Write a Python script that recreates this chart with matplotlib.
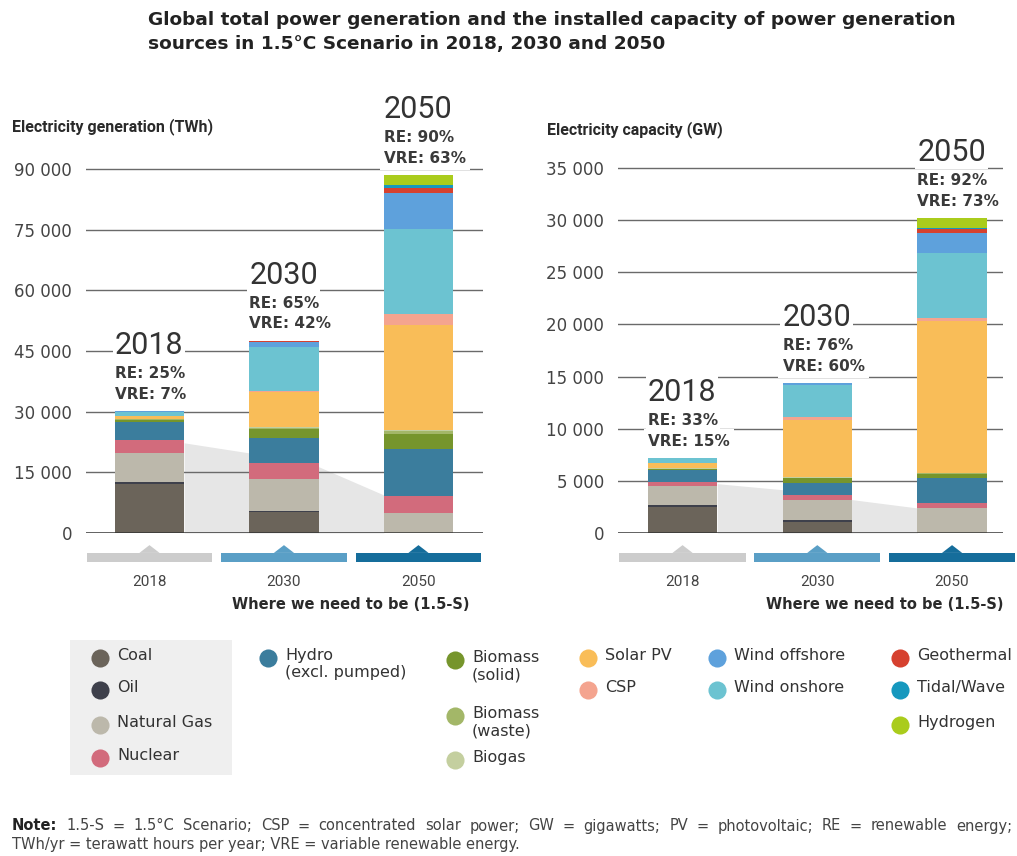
import matplotlib
matplotlib.use('Agg')
import matplotlib.pyplot as plt
from matplotlib import transforms
from matplotlib.patches import Rectangle, Polygon
import numpy as np

plt.rcParams['font.family'] = ['DejaVu Sans']

years = ['2018', '2030', '2050']
sources = ['Coal', 'Oil', 'Natural Gas', 'Nuclear', 'Hydro (excl. pumped)',
           'Biomass (solid)', 'Biomass (waste)', 'Biogas', 'Solar PV', 'CSP',
           'Wind onshore', 'Wind offshore', 'Geothermal', 'Tidal/Wave', 'Hydrogen']
colors = ['#6b645a', '#3e404b', '#bcb8ab', '#d26b7c', '#3b7d9d',
          '#76952c', '#a3b768', '#c4cf9f', '#f9bd58', '#f4a48f',
          '#6cc3d1', '#5ea1dc', '#d6412f', '#1698be', '#aacc1c']

# electricity generation (TWh), stacked in the order of `sources`
gen_2018 = [12000, 700, 7000, 3300, 4500, 500, 200, 100, 600, 10, 1100, 60, 90, 1, 0]
gen_2030 = [5200, 300, 7800, 3900, 6200, 2200, 300, 200, 8800, 200, 11000, 1100, 300, 100, 0]
gen_2050 = [0, 0, 5000, 4100, 11600, 3900, 600, 300, 25900, 2800, 20900, 8900, 1400, 700, 2400]

# installed capacity (GW)
cap_2018 = [2500, 200, 1800, 420, 1120, 100, 30, 20, 480, 5, 500, 25, 15, 1, 0]
cap_2030 = [1100, 180, 1910, 480, 1120, 450, 80, 50, 5490, 240, 3050, 200, 40, 10, 0]
cap_2050 = [0, 0, 2400, 480, 2390, 400, 50, 30, 14550, 300, 6250, 1950, 300, 150, 950]

gen_re = ['RE: 25%', 'RE: 65%', 'RE: 90%']
gen_vre = ['VRE: 7%', 'VRE: 42%', 'VRE: 63%']
cap_re = ['RE: 33%', 'RE: 76%', 'RE: 92%']
cap_vre = ['VRE: 15%', 'VRE: 60%', 'VRE: 73%']

gen_ticks = [0, 15000, 30000, 45000, 60000, 75000, 90000]
cap_ticks = [0, 5000, 10000, 15000, 20000, 25000, 30000, 35000]

# grey fossil wedge behind the bars (2018 right edge .. 2050 left edge)
gen_backdrop = [22300, 19800, 16400, 9400]
cap_backdrop = [4730, 4150, 3200, 2400]

band_colors = ['#cccccc', '#5a9fc6', '#156d9b']

W, H = 1017, 856
fig = plt.figure(figsize=(W / 100, H / 100), dpi=100)
ov = fig.add_axes([0, 0, 1, 1])
ov.set_xlim(0, W)
ov.set_ylim(H, 0)
ov.axis('off')

roboto = ['Roboto', 'DejaVu Sans']


def fmt(v):
    return f'{v:,}'.replace(',', ' ')


def panel(rect, xlim, ylim, data, ticks, re, vre, backdrop):
    ax = fig.add_axes(rect)
    ax.patch.set_alpha(0)
    x = np.arange(3)
    w = 0.515
    bottom = np.zeros(3)
    for j in range(len(sources)):
        vals = np.array([d[j] for d in data], dtype=float)
        ax.bar(x, vals, w, bottom=bottom, color=colors[j], lw=0, zorder=2)
        bottom += vals
    bx = [w / 2, 1 - w / 2, 1 + w / 2, 2 - w / 2]
    ax.fill_between(bx, backdrop, 0, color='#e6e6e6', lw=0, zorder=0)
    for t in ticks[1:]:
        ax.axhline(t, color='#6a6a6a', lw=1, zorder=1)
    ax.axhline(0, color='#333333', lw=1.8, zorder=3)
    ax.set_xlim(*xlim)
    ax.set_ylim(*ylim)
    ax.set_xticks([])
    ax.set_yticks(ticks)
    ax.set_yticklabels([fmt(t) for t in ticks])
    ax.tick_params(axis='y', length=0, pad=10, labelsize=12, labelcolor='#444444')
    for s in ax.spines.values():
        s.set_visible(False)

    box = dict(fc='white', ec='none', pad=1.5)
    for i in range(3):
        xl = i - w / 2
        top = bottom[i]
        ax.annotate(years[i], (xl, top), xytext=(0, 47), textcoords='offset points',
                    ha='left', va='center', fontsize=22, family=roboto,
                    color='#333333', bbox=box, zorder=4)
        ax.annotate(re[i], (xl, top), xytext=(0, 27), textcoords='offset points',
                    ha='left', va='center', fontsize=11, fontweight='bold',
                    color='#3a3a3a', bbox=box, zorder=4)
        ax.annotate(vre[i], (xl, top), xytext=(0, 12), textcoords='offset points',
                    ha='left', va='center', fontsize=11, fontweight='bold',
                    color='#3a3a3a', bbox=dict(fc='white', ec='none', pad=3), zorder=4)

    # timeline bands under the axis
    tr = transforms.blended_transform_factory(ax.transData, ax.transAxes)
    for i in range(3):
        ax.add_patch(Rectangle((i - 0.468, -0.067), 0.936, 0.021, transform=tr,
                               color=band_colors[i], lw=0, clip_on=False))
        ax.add_patch(Polygon([(i - 0.075, -0.046), (i, -0.028), (i + 0.075, -0.046)],
                             closed=True, transform=tr, color=band_colors[i], lw=0,
                             clip_on=False))
        ax.text(i, -0.113, years[i], transform=tr, ha='center', va='center',
                fontsize=11, family=roboto, color='#444444')
    ax.text(1.5, -0.166, 'Where we need to be (1.5-S)', transform=tr, ha='center',
            va='center', fontsize=10.5, fontweight='bold', color='#2a2a2a')
    return ax


bot = (H - 533) / H
hgt = 433 / H
panel([86 / W, bot, 397 / W, hgt], (-0.472, 2.48), (0, 433 / 4.044 * 1000),
      [gen_2018, gen_2030, gen_2050], gen_ticks, gen_re, gen_vre, gen_backdrop)
panel([618 / W, bot, 385 / W, hgt], (-0.479, 2.378), (0, 433 / 10.43 * 1000),
      [cap_2018, cap_2030, cap_2050], cap_ticks, cap_re, cap_vre, cap_backdrop)

# titles
ov.text(148, 11, 'Global total power generation and the installed capacity of power generation\n'
        'sources in 1.5\u00b0C Scenario in 2018, 2030 and 2050', fontsize=13.3,
        fontweight='bold', va='top', ha='left', linespacing=1.4, color='#222222')
ov.text(12, 127, 'Electricity generation (TWh)', fontsize=11.5, fontweight='bold',
        family=roboto, va='center', ha='left', color='#2a2a2a')
ov.text(547, 130, 'Electricity capacity (GW)', fontsize=11.5, fontweight='bold',
        family=roboto, va='center', ha='left', color='#2a2a2a')

# legend
ov.add_patch(Rectangle((70, 640), 162, 135, color='#efefef', lw=0))
leg_labels = ['Coal', 'Oil', 'Natural Gas', 'Nuclear', 'Hydro\n(excl. pumped)',
              'Biomass\n(solid)', 'Biomass\n(waste)', 'Biogas', 'Solar PV', 'CSP',
              'Wind onshore', 'Wind offshore', 'Geothermal', 'Tidal/Wave', 'Hydrogen']
leg_pos = [(100, 658), (100, 690), (100, 725), (100, 758), (268, 658),
           (455, 660), (455, 716), (455, 760), (588, 658), (588, 690),
           (717, 690), (717, 658), (900, 658), (900, 690), (900, 725)]
for lab, c, (px, py) in zip(leg_labels, colors, leg_pos):
    ov.scatter([px], [py], s=170, color=c, lw=0)
    ov.text(px + 17, py - 10, lab, fontsize=11.5, color='#333333', ha='left', va='top',
            linespacing=1.2)

# note, first line justified across the page
fig.canvas.draw()
r = fig.canvas.get_renderer()
note1 = ('Note: 1.5-S = 1.5\u00b0C Scenario; CSP = concentrated solar power; '
         'GW = gigawatts; PV = photovoltaic; RE = renewable energy;').split(' ')
words = []
for k, wd in enumerate(note1):
    t = ov.text(0, 826, wd, fontsize=10.5, va='center', ha='left',
                fontweight='bold' if k == 0 else 'normal',
                color='#222222' if k == 0 else '#444444')
    words.append((t, t.get_window_extent(r).width))
gap = (1012 - 12 - sum(wd for _, wd in words)) / (len(words) - 1)
xpos = 12
for t, wd in words:
    t.set_x(xpos)
    xpos += wd + gap
ov.text(12, 845, 'TWh/yr = terawatt hours per year; VRE = variable renewable energy.',
        fontsize=10.5, color='#444444', va='center', ha='left')

fig.savefig('out.png', dpi=100)
